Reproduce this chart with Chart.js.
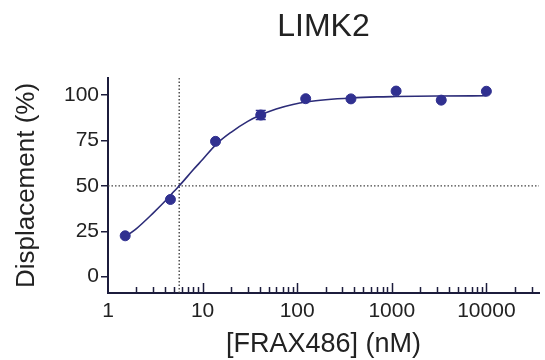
<!DOCTYPE html>
<html>
<head>
<meta charset="utf-8">
<script src="https://cdn.jsdelivr.net/npm/chart.js@4"></script>
<style>
  html, body { margin: 0; padding: 0; background: #fff; }
  #wrap { width: 545px; height: 360px; }
</style>
</head>
<body>
<div id="wrap"><canvas id="c"></canvas></div>
<script>
// measured points (nM, % displacement)
const conc = [1.52, 4.57, 13.7, 41.2, 123, 370, 1111, 3333, 10000];
const displacement = [22.5, 42.5, 74.5, 89, 98, 97.9, 102.2, 97.2, 102.1];
const errBar = [0, 0, 0, 2.5, 0, 0, 0, 0, 0];

// fitted curve
const curveX = [1.52, 2, 3, 4, 5, 6, 8, 10, 14, 20, 30, 41, 60, 90, 130, 200, 370, 700, 1100, 3000, 10000];
const curveY = [22, 26.5, 35, 41.5, 47, 51.5, 59, 64.5, 73, 79.5, 85.5, 89, 92.3, 94.8, 96.3, 97.4, 98.4, 99, 99.2, 99.5, 99.6];

const ic50 = 5.66;
const halfLevel = 50;
const xTicks = [1, 10, 100, 1000, 10000];
const yTicks = [0, 25, 50, 75, 100];

const xMin = 1, xMax = 36000;
const yMin = -9, yMax = 109.4;

const navy = '#303090';
const axisColor = '#1c1c3c';
const font = "'Liberation Sans', Arial, sans-serif";

// title + inward x minor ticks + error bars
const extras = {
    id: 'extras',
    afterDatasetsDraw(chart) {
        const { ctx, chartArea, scales } = chart;
        const x = scales.x, y = scales.y;
        ctx.save();

        // error bars
        ctx.strokeStyle = navy;
        ctx.lineWidth = 1.5;
        conc.forEach((c, i) => {
            if (!errBar[i]) return;
            const px = x.getPixelForValue(c);
            const top = y.getPixelForValue(displacement[i] + errBar[i]);
            const bot = y.getPixelForValue(displacement[i] - errBar[i]);
            ctx.beginPath();
            ctx.moveTo(px, top); ctx.lineTo(px, bot);
            ctx.moveTo(px - 5, top); ctx.lineTo(px + 5, top);
            ctx.moveTo(px - 5, bot); ctx.lineTo(px + 5, bot);
            ctx.stroke();
        });

        // x ticks pointing up into the plot
        ctx.strokeStyle = axisColor;
        ctx.lineWidth = 1.5;
        const base = chartArea.bottom;
        for (let d = 1; d <= 10000; d *= 10) {
            for (let m = 1; m <= 9; m++) {
                const v = m * d;
                if (v <= xMin || v > xMax) continue;
                const px = Math.round(x.getPixelForValue(v)) + 0.5;
                const len = m === 1 ? 10 : 6;
                ctx.beginPath();
                ctx.moveTo(px, base);
                ctx.lineTo(px, base - len);
                ctx.stroke();
            }
        }

        // title
        ctx.fillStyle = '#222';
        ctx.font = '32px ' + font;
        ctx.textAlign = 'center';
        ctx.textBaseline = 'middle';
        ctx.fillText('LIMK2', (chartArea.left + chartArea.right) / 2, 27);
        ctx.restore();
    }
};

new Chart(document.getElementById('c'), {
    type: 'scatter',
    data: {
        datasets: [
            {
                label: 'fit',
                type: 'line',
                data: curveX.map((v, i) => ({ x: v, y: curveY[i] })),
                borderColor: '#2c2c78',
                borderWidth: 1.6,
                pointRadius: 0,
                cubicInterpolationMode: 'monotone',
                fill: false,
                order: 2
            },
            {
                label: 'IC50',
                type: 'line',
                data: [{ x: ic50, y: yMin }, { x: ic50, y: yMax }],
                borderColor: '#444',
                borderWidth: 1.4,
                borderDash: [1.5, 2],
                pointRadius: 0,
                order: 3
            },
            {
                label: '50%',
                type: 'line',
                data: [{ x: xMin, y: halfLevel }, { x: xMax, y: halfLevel }],
                borderColor: '#444',
                borderWidth: 1.4,
                borderDash: [1.5, 2],
                pointRadius: 0,
                order: 3
            },
            {
                label: 'LIMK2',
                data: conc.map((v, i) => ({ x: v, y: displacement[i] })),
                backgroundColor: navy,
                borderColor: navy,
                pointRadius: 5,
                order: 1
            }
        ]
    },
    options: {
        responsive: true,
        maintainAspectRatio: false,
        animation: false,
        layout: { padding: { top: 78, right: 0, left: 0, bottom: 0 } },
        plugins: {
            legend: { display: false },
            tooltip: { enabled: false }
        },
        scales: {
            x: {
                type: 'logarithmic',
                min: xMin,
                max: xMax,
                afterBuildTicks: axis => { axis.ticks = xTicks.map(v => ({ value: v })); },
                afterFit: axis => { axis.height = 67; },
                grid: { display: false, drawTicks: false },
                border: { display: true, color: axisColor, width: 2 },
                ticks: {
                    color: '#222',
                    padding: 6,
                    maxRotation: 0,
                    autoSkip: false,
                    font: { family: font, size: 21 },
                    callback: v => String(v)
                },
                title: {
                    display: true,
                    text: '[FRAX486] (nM)',
                    color: '#222',
                    font: { family: font, size: 27, lineHeight: 1 },
                    padding: { top: 0, bottom: 1.5 }
                }
            },
            y: {
                min: yMin,
                max: yMax,
                afterBuildTicks: axis => { axis.ticks = yTicks.map(v => ({ value: v })); },
                afterFit: axis => { axis.width = 108; },
                grid: { drawOnChartArea: false, drawTicks: true, tickLength: 7, color: axisColor, lineWidth: 1.5 },
                border: { display: true, color: axisColor, width: 2 },
                ticks: {
                    color: '#222',
                    padding: 2,
                    font: { family: font, size: 21 }
                },
                title: {
                    display: true,
                    text: 'Displacement (%)',
                    color: '#222',
                    font: { family: font, size: 26, lineHeight: 1 },
                    padding: { top: 14, bottom: 0 }
                }
            }
        }
    },
    plugins: [extras]
});
</script>
</body>
</html>
